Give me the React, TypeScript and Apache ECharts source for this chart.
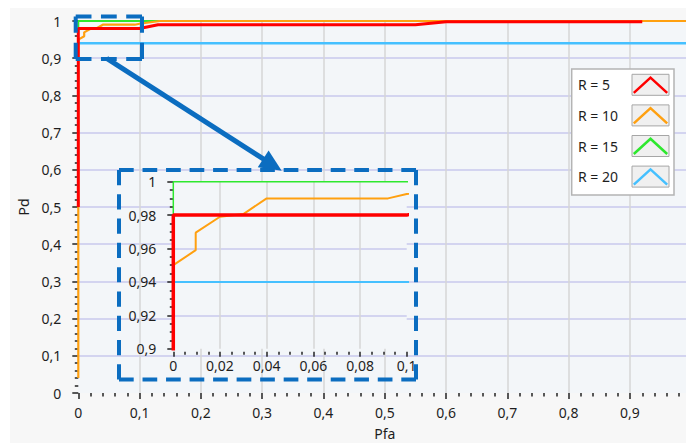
import React, { useEffect, useRef } from "react";
import * as echarts from "echarts";

// ROC curves: probability of detection (Pd) against probability of false alarm (Pfa)
const pfaR5 = [0, 0, 0.1, 0.13, 0.55, 0.6, 0.92];
const pdR5 = [0.5, 0.98, 0.98, 0.99, 0.99, 0.998, 0.998];

const pfaR10 = [0, 0, 0.0096, 0.0096, 0.02, 0.03, 0.04, 0.092, 0.1, 0.133, 1];
const pdR10 = [0.04, 0.95, 0.959, 0.9695, 0.979, 0.9806, 0.99, 0.99, 0.9926, 1, 1];

const pfaR15 = [0, 0, 1];
const pdR15 = [0.98, 1, 1];

const pfaR20 = [0, 1];
const pdR20 = [0.94, 0.94];

const curveNames = ["R = 5", "R = 10", "R = 15", "R = 20"];
const curveColors = ["#ff0000", "#ffa010", "#2ee82e", "#45c0ff"];

// axis ranges of the full view and of the magnified corner
const mainRange = { xMin: 0, xMax: 1, xStep: 0.1, yMin: 0, yMax: 1, yStep: 0.1 };
const zoomRange = { xMin: 0, xMax: 0.1, xStep: 0.02, yMin: 0.9, yMax: 1, yStep: 0.02 };

const FONT = "'Noto Sans', 'Open Sans', sans-serif";
const TEXT = "#1e1e1e";
const MARK_BLUE = "#0b6dc0";
const PLOT_BG = "#f3f6f9";
const VGRID = "#d6d6d6";
const HGRID = "#c8c8ec";

const curves = [
  { name: curveNames[0], x: pfaR5, y: pdR5, color: curveColors[0], width: 3, zoomWidth: 3.5 },
  { name: curveNames[1], x: pfaR10, y: pdR10, color: curveColors[1], width: 2.2, zoomWidth: 2 },
  { name: curveNames[2], x: pfaR15, y: pdR15, color: curveColors[2], width: 2, zoomWidth: 1.5 },
  { name: curveNames[3], x: pfaR20, y: pdR20, color: curveColors[3], width: 2.5, zoomWidth: 2 },
];
// paint order: green and blue underneath, red on top
const drawOrder = [2, 3, 1, 0];

const fmt = (v: number) => String(Number(v.toFixed(4))).replace(".", ",");

function dashedSide(x1: number, y1: number, x2: number, y2: number) {
  const dash = 15;
  const gap = 9;
  const len = Math.hypot(x2 - x1, y2 - y1);
  const n = Math.max(1, Math.round((len - dash) / (dash + gap)));
  const k = len / (n * (dash + gap) + dash);
  return {
    type: "line",
    z: 100,
    silent: true,
    shape: { x1, y1, x2, y2 },
    style: { stroke: MARK_BLUE, lineWidth: 4, lineDash: [dash * k, gap * k], lineCap: "butt" },
  };
}

function dashedBox(x: number, y: number, w: number, h: number) {
  return [
    dashedSide(x, y, x + w, y),
    dashedSide(x + w, y, x + w, y + h),
    dashedSide(x + w, y + h, x, y + h),
    dashedSide(x, y + h, x, y),
  ];
}

function arrow(x0: number, y0: number, x1: number, y1: number) {
  const len = Math.hypot(x1 - x0, y1 - y0);
  const ux = (x1 - x0) / len;
  const uy = (y1 - y0) / len;
  const headLen = 22;
  const half = 10;
  const bx = x1 - ux * headLen;
  const by = y1 - uy * headLen;
  return [
    {
      type: "line",
      z: 100,
      silent: true,
      shape: { x1: x0, y1: y0, x2: bx + ux * 2, y2: by + uy * 2 },
      style: { stroke: MARK_BLUE, lineWidth: 5 },
    },
    {
      type: "polygon",
      z: 100,
      silent: true,
      shape: {
        points: [
          [x1, y1],
          [bx - uy * half, by + ux * half],
          [bx + uy * half, by - ux * half],
        ],
      },
      style: { fill: MARK_BLUE },
    },
  ];
}

function legendBox() {
  const left = 561.7;
  const top = 61;
  const rowY0 = 76.8;
  const rowStep = 30.6;
  const items: any[] = [
    {
      type: "rect",
      z: 100,
      silent: true,
      shape: { x: left, y: top, width: 102.3, height: 126 },
      style: { fill: "#ffffff", stroke: "#b4b4b4", lineWidth: 1.5 },
    },
  ];
  curves.forEach((c, i) => {
    const cy = rowY0 + i * rowStep;
    items.push({
      type: "text",
      z: 101,
      silent: true,
      style: {
        text: c.name,
        x: 568,
        y: cy,
        verticalAlign: "middle",
        align: "left",
        font: `14px ${FONT}`,
        fill: TEXT,
      },
    });
    items.push({
      type: "rect",
      z: 101,
      silent: true,
      shape: { x: 622, y: cy - 10.5, width: 37, height: 21 },
      style: { fill: "#f0f0f0", stroke: "#a6a6a6", lineWidth: 1 },
    });
    items.push({
      type: "polyline",
      z: 102,
      silent: true,
      shape: {
        points: [
          [623.8, cy + 8],
          [640.5, cy - 7.2],
          [657.2, cy + 8],
        ],
      },
      style: { stroke: c.color, lineWidth: 2.5, fill: "none" },
    });
  });
  return items;
}

function valueAxis(opts: any) {
  const {
    gridIndex, min, max, interval, offset, tickLen, minorLen, minorSplit, margin, split, name, nameGap, z,
    showMaxLabel,
  } = opts;
  return {
    type: "value",
    gridIndex,
    min,
    max,
    interval,
    offset,
    z,
    name,
    nameLocation: "middle",
    nameGap,
    nameTextStyle: { fontFamily: FONT, fontSize: 14, color: TEXT },
    axisLine: { show: false },
    axisTick: { show: true, inside: false, length: tickLen, lineStyle: { color: "#222", width: 1.5 } },
    minorTick: { show: true, splitNumber: minorSplit, length: minorLen, lineStyle: { color: "#222", width: 1.5 } },
    axisLabel: {
      show: true,
      margin,
      interval: 0,
      hideOverlap: false,
      showMaxLabel: showMaxLabel !== false,
      formatter: (v: number) => fmt(v),
      fontFamily: FONT,
      fontSize: 14,
      color: TEXT,
    },
    splitLine: {
      show: true,
      showMinLine: false,
      showMaxLine: false,
      lineStyle: { color: split, width: 1.5 },
    },
    minorSplitLine: { show: false },
  };
}

export default function App() {
  const ref = useRef<HTMLDivElement>(null);

  useEffect(() => {
    if (!ref.current) return;
    const chart = echarts.init(ref.current, undefined, { renderer: "svg" });

    const mainSeries = drawOrder.map((i) => {
      const c = curves[i];
      return {
        type: "line",
        name: c.name,
        xAxisIndex: 0,
        yAxisIndex: 0,
        data: c.x.map((x, k) => [x, c.y[k]]),
        showSymbol: false,
        symbol: "none",
        clip: false,
        z: 2,
        lineStyle: { color: c.color, width: c.width },
        itemStyle: { color: c.color },
      };
    });

    const zoomSeries = drawOrder.map((i) => {
      const c = curves[i];
      return {
        type: "line",
        name: c.name,
        xAxisIndex: 1,
        yAxisIndex: 1,
        data: c.x.map((x, k) => [x, c.y[k]]),
        showSymbol: false,
        symbol: "none",
        clip: true,
        z: 4,
        lineStyle: { color: c.color, width: c.zoomWidth },
        itemStyle: { color: c.color },
      };
    });

    const option: any = {
      animation: false,
      backgroundColor: "#f7f7f7",
      grid: [
        {
          left: 68.3,
          top: 13,
          right: -5.3,
          bottom: 50,
          show: true,
          backgroundColor: PLOT_BG,
          borderWidth: 0,
          containLabel: false,
          outerBoundsMode: "none",
          z: 0,
        },
        {
          left: 163.3,
          top: 173.7,
          width: 233.4,
          height: 167,
          show: true,
          backgroundColor: PLOT_BG,
          borderWidth: 0,
          containLabel: false,
          outerBoundsMode: "none",
          z: 2,
        },
      ],
      xAxis: [
        valueAxis({
          gridIndex: 0, min: mainRange.xMin, max: mainRange.xMax, interval: mainRange.xStep,
          offset: 4, tickLen: 6, minorLen: 3.5, minorSplit: 5, margin: 8, split: VGRID,
          name: "Pfa", nameGap: 29, z: 0, showMaxLabel: false,
        }),
        valueAxis({
          gridIndex: 1, min: zoomRange.xMin, max: zoomRange.xMax, interval: zoomRange.xStep,
          offset: 3, tickLen: 5, minorLen: 3, minorSplit: 4, margin: 7, split: VGRID,
          name: "", nameGap: 0, z: 3,
        }),
      ],
      yAxis: [
        valueAxis({
          gridIndex: 0, min: mainRange.yMin, max: mainRange.yMax, interval: mainRange.yStep,
          offset: 10, tickLen: 6, minorLen: 3.5, minorSplit: 5, margin: 7, split: HGRID,
          name: "Pd", nameGap: 36, z: 0,
        }),
        valueAxis({
          gridIndex: 1, min: zoomRange.yMin, max: zoomRange.yMax, interval: zoomRange.yStep,
          offset: 10, tickLen: 6, minorLen: 3.5, minorSplit: 4, margin: 7, split: HGRID,
          name: "", nameGap: 0, z: 3,
        }),
      ],
      series: [...mainSeries, ...zoomSeries],
      graphic: {
        elements: [
          ...dashedBox(65.7, 8.5, 66.3, 42.5),
          ...dashedBox(109, 162, 297, 209.5),
          ...arrow(96.7, 50.3, 271.7, 162.7),
          ...legendBox(),
        ],
      },
    };

    chart.setOption(option);
    return () => chart.dispose();
  }, []);

  return (
    <div
      ref={ref}
      style={{ position: "absolute", left: 10, top: 8, width: 676, height: 435 }}
    />
  );
}
